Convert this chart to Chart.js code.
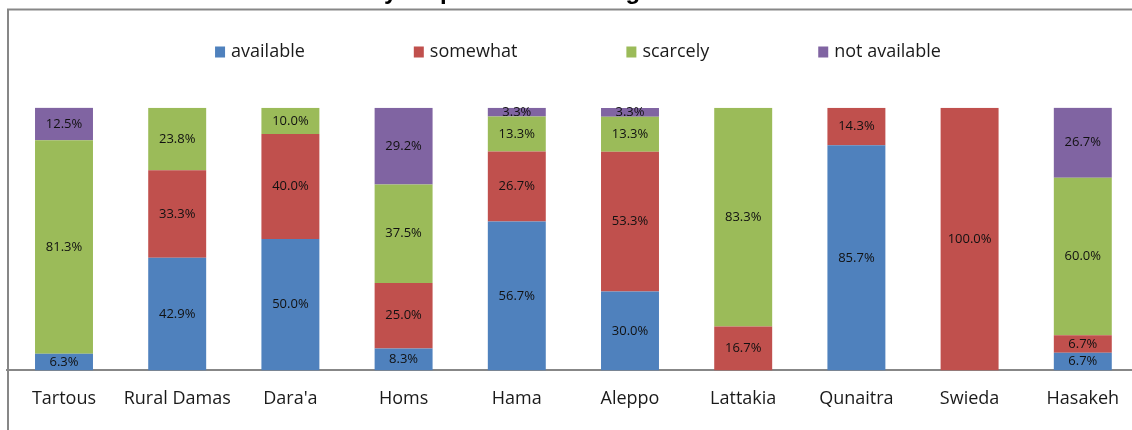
<!DOCTYPE html>
<html>
<head>
<meta charset="utf-8">
<script src="https://cdn.jsdelivr.net/npm/chart.js@4.4.1/dist/chart.umd.min.js"></script>
<style>
  html, body { margin: 0; padding: 0; background: #fff; overflow: hidden; }
  #wrap { position: absolute; left: 0; top: -22px; width: 1160px; height: 452px; }
</style>
</head>
<body>
<div id="wrap"><canvas id="chart"></canvas></div>
<script>
const governorates = ['Tartous', 'Rural Damas', "Dara'a", 'Homs', 'Hama', 'Aleppo', 'Lattakia', 'Qunaitra', 'Swieda', 'Hasakeh'];
const available    = [6.3, 42.9, 50.0, 8.3, 56.7, 30.0, null, 85.7, null, 6.7];
const somewhat     = [null, 33.3, 40.0, 25.0, 26.7, 53.3, 16.7, 14.3, 100.0, 6.7];
const scarcely     = [81.3, 23.8, 10.0, 37.5, 13.3, 13.3, 83.3, null, null, 60.0];
const notAvailable = [12.5, null, null, 29.2, 3.3, 3.3, null, null, null, 26.7];
const seriesNames  = ['available', 'somewhat', 'scarcely', 'not available'];
const seriesColors = ['#4f81bd', '#c0504d', '#9bbb59', '#8064a2'];
const chartTitle   = 'by respondents in ten governorates';

const FONT = '"Open Sans", "Noto Sans", sans-serif';
const GRAY = '#878787';

// gray frame round the plot (left + top edge)
const framePlugin = {
    id: 'frame',
    beforeDraw(chart) {
        const ctx = chart.ctx;
        ctx.save();
        ctx.strokeStyle = GRAY;
        ctx.lineWidth = 2;
        ctx.beginPath();
        ctx.moveTo(8, chart.height);
        ctx.lineTo(8, 31.5);
        ctx.lineTo(chart.width, 31.5);
        ctx.stroke();
        ctx.restore();
    }
};

// excel-like legend: one row, fixed gap between items
const legendPlugin = {
    id: 'rowLegend',
    afterDraw(chart) {
        const ctx = chart.ctx;
        const box = 10, gapText = 6, gap = 109, cx = 578, cy = 73.5;
        ctx.save();
        ctx.font = '18px ' + FONT;
        const items = chart.data.datasets.map(ds => ({
            label: ds.label,
            color: ds.backgroundColor,
            w: box + gapText + ctx.measureText(ds.label).width
        }));
        const total = items.reduce((s, it) => s + it.w, 0) + gap * (items.length - 1);
        let x = cx - total / 2;
        ctx.textBaseline = 'middle';
        ctx.textAlign = 'left';
        items.forEach(it => {
            ctx.fillStyle = it.color;
            ctx.fillRect(x, cy - 5, box, 11);
            ctx.fillStyle = '#1a1a1a';
            ctx.fillText(it.label, x + box + gapText, cy);
            x += it.w + gap;
        });
        ctx.restore();
    }
};

// percentage labels in the middle of each segment
const valueLabels = {
    id: 'valueLabels',
    afterDatasetsDraw(chart) {
        const ctx = chart.ctx;
        ctx.save();
        ctx.font = '13px ' + FONT;
        ctx.fillStyle = '#111';
        ctx.textAlign = 'center';
        ctx.textBaseline = 'middle';
        chart.data.datasets.forEach((ds, i) => {
            chart.getDatasetMeta(i).data.forEach((bar, j) => {
                const v = ds.data[j];
                if (v == null) return;
                ctx.fillText(v.toFixed(1) + '%', bar.x, (bar.y + bar.base) / 2);
            });
        });
        ctx.restore();
    }
};

const seriesValues = [available, somewhat, scarcely, notAvailable];

new Chart(document.getElementById('chart'), {
    type: 'bar',
    data: {
        labels: governorates,
        datasets: seriesValues.map((vals, i) => ({
            label: seriesNames[i],
            data: vals,
            backgroundColor: seriesColors[i],
            borderWidth: 0,
            barPercentage: 0.512,
            categoryPercentage: 1.0
        }))
    },
    options: {
        responsive: true,
        maintainAspectRatio: false,
        animation: false,
        devicePixelRatio: 1,
        layout: { padding: { left: 7.4, right: 20.6, top: 0, bottom: 10 } },
        plugins: {
            legend: { display: false },
            tooltip: { enabled: false },
            title: {
                display: true,
                text: chartTitle,
                color: '#000',
                font: { family: '"Liberation Sans", Arial, sans-serif', size: 24, weight: 'bold' },
                padding: { top: 0, bottom: 101 }
            }
        },
        scales: {
            x: {
                stacked: true,
                grid: { display: false },
                border: { display: true, color: GRAY, width: 2 },
                ticks: { color: '#1a1a1a', padding: 10, font: { family: FONT, size: 18 } }
            },
            y: {
                stacked: true,
                display: false,
                min: 0,
                max: 100
            }
        }
    },
    plugins: [framePlugin, legendPlugin, valueLabels]
});
</script>
</body>
</html>
